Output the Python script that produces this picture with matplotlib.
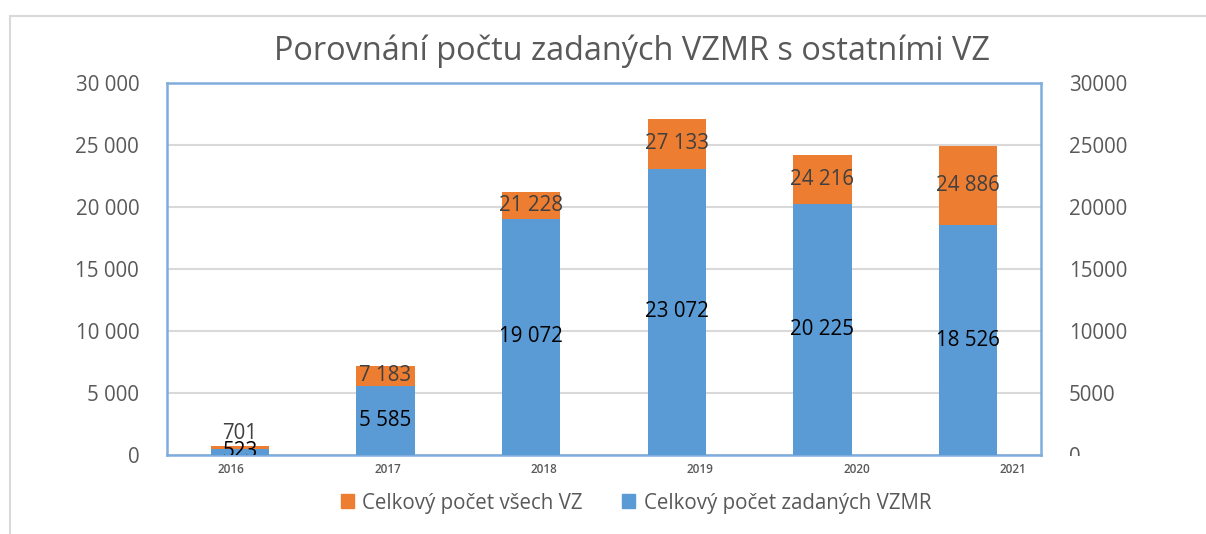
import numpy as np
import matplotlib
matplotlib.use('Agg')
import matplotlib.pyplot as plt
from matplotlib.patches import Rectangle, Patch

years = ['2016', '2017', '2018', '2019', '2020', '2021']
vsech_vz = [701, 7183, 21228, 27133, 24216, 24886]
vzmr = [523, 5585, 19072, 23072, 20225, 18526]
y_ticks = [0, 5000, 10000, 15000, 20000, 25000, 30000]

ORANGE = '#ED7D31'
BLUE = '#5B9BD5'
GREY = '#595959'
FS = 14.8

plt.rcParams['font.family'] = ['Open Sans', 'DejaVu Sans']


def fmt(v):
    return f'{v:,}'.replace(',', ' ')


fig = plt.figure(figsize=(12.06, 5.34), dpi=100)
fig.patches.append(Rectangle((10 / 1206, -0.1), 1.2, (534 - 16) / 534 + 0.1,
                             transform=fig.transFigure, fill=False,
                             edgecolor='#D9D9D9', linewidth=1.5))

ax = fig.add_axes([167 / 1206, 79 / 534, 874 / 1206, 372 / 534])
x = np.arange(len(years))
w = 0.4
ax.bar(x, vsech_vz, width=w, color=ORANGE, zorder=2)
ax.bar(x, vzmr, width=w, color=BLUE, zorder=3)

ax.set_xlim(-0.5, len(years) - 0.5)
ax.set_ylim(0, 30000)
ax.set_yticks(y_ticks, [fmt(t) for t in y_ticks])
ax.yaxis.grid(True, color='#D9D9D9', linewidth=1.5, zorder=0)
ax.set_axisbelow(True)
ax.tick_params(axis='y', length=0, pad=20, labelsize=FS, labelcolor=GREY)

# year labels drift right across the axis, as in the original
ax.set_xticks(np.linspace(-0.06, 5.31, len(years)), years)
ax.tick_params(axis='x', length=0, pad=6, labelsize=8.5, labelcolor=GREY)
for lbl in ax.get_xticklabels():
    lbl.set_fontweight('semibold')

for s in ax.spines.values():
    s.set_color('#7EADDD')
    s.set_linewidth(1.8)

ax2 = ax.twinx()
ax2.set_ylim(0, 30000)
ax2.set_yticks(y_ticks, [str(t) for t in y_ticks])
ax2.tick_params(axis='y', length=0, pad=20, labelsize=FS, labelcolor=GREY)
for s in ax2.spines.values():
    s.set_visible(False)
# the bottom "0" on the right is cut off at the plot edge in the original
zero_lbl = ax2.get_yticklabels()[0]
zero_lbl.set_clip_on(True)
zero_lbl.set_clip_path(Rectangle((0, (534 - 456) / 534), 1, 1, transform=fig.transFigure))

for i in range(len(years)):
    ax.text(x[i], vzmr[i] / 2, fmt(vzmr[i]), ha='center', va='center',
            fontsize=FS, color='black', zorder=5, clip_on=True)
    mid = (vzmr[i] + vsech_vz[i]) / 2
    if vsech_vz[i] - vzmr[i] < 1000:
        ax.annotate(fmt(vsech_vz[i]), (x[i], vsech_vz[i]), xytext=(0, 1.5),
                    textcoords='offset points', ha='center', va='bottom',
                    fontsize=FS, color='#404040', zorder=6)
    else:
        ax.text(x[i], mid, fmt(vsech_vz[i]), ha='center', va='center',
                fontsize=FS, color='#404040', zorder=5)

fig.text(632 / 1206, 1 - 51 / 534, 'Porovnání počtu zadaných VZMR s ostatními VZ',
         ha='center', va='center', fontsize=23.4, color=GREY)

handles = [Patch(color=ORANGE, label='Celkový počet všech VZ'),
           Patch(color=BLUE, label='Celkový počet zadaných VZMR')]
leg = fig.legend(handles=handles, loc='center', bbox_to_anchor=(636 / 1206, 1 - 503 / 534),
                 ncol=2, frameon=False, fontsize=FS, handlelength=0.65, handleheight=0.65,
                 handletextpad=0.4, columnspacing=1.9)
for t in leg.get_texts():
    t.set_color(GREY)

fig.savefig('out.png', dpi=100)
